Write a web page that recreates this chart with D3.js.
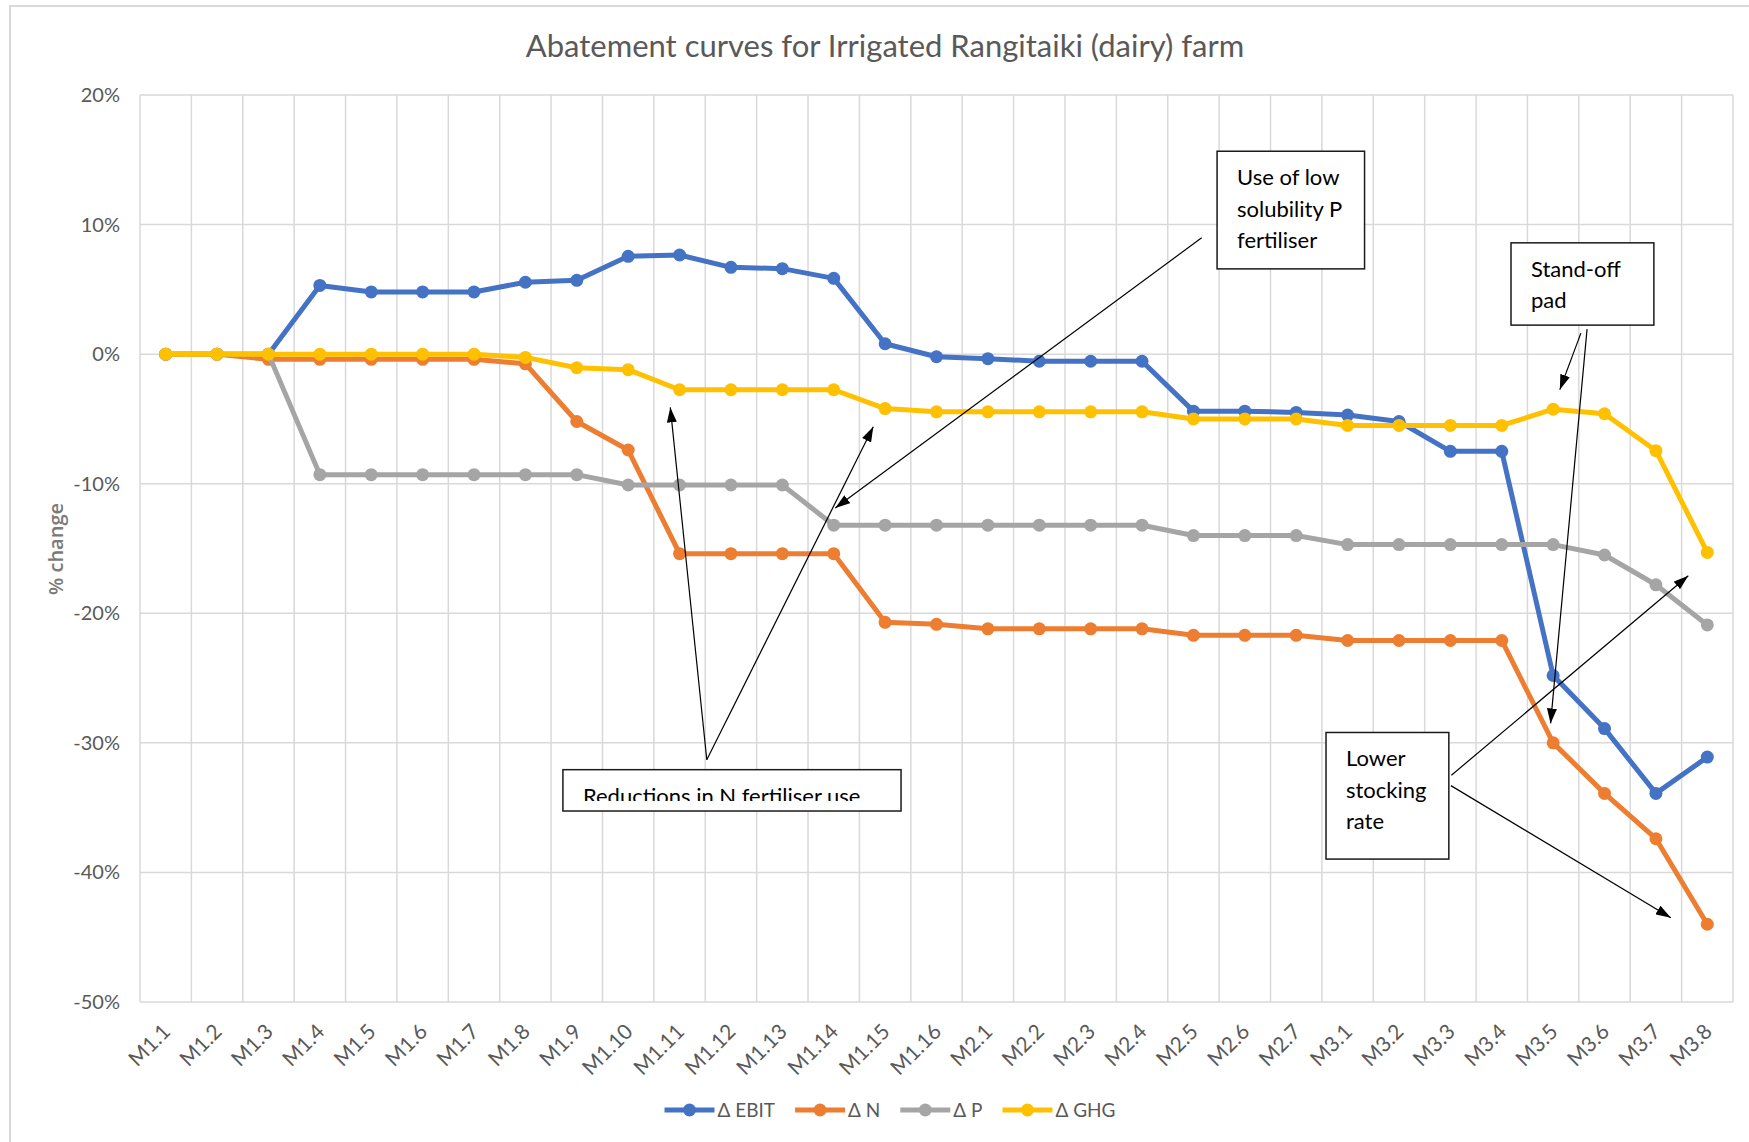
<!DOCTYPE html>
<html>
<head>
<meta charset="utf-8">
<script src="https://cdn.jsdelivr.net/npm/d3@7"></script>
<style>
  body { margin: 0; background: #fff; }
  svg { display: block; }
</style>
</head>
<body>
<script>
// categories and series (% change)
const categories = ['M1.1', 'M1.2', 'M1.3', 'M1.4', 'M1.5', 'M1.6', 'M1.7', 'M1.8', 'M1.9', 'M1.10',
  'M1.11', 'M1.12', 'M1.13', 'M1.14', 'M1.15', 'M1.16', 'M2.1', 'M2.2', 'M2.3', 'M2.4', 'M2.5',
  'M2.6', 'M2.7', 'M3.1', 'M3.2', 'M3.3', 'M3.4', 'M3.5', 'M3.6', 'M3.7', 'M3.8'];

const ebit = [0, 0, 0, 5.3, 4.8, 4.8, 4.8, 5.55, 5.7, 7.55, 7.65, 6.7, 6.6, 5.85, 0.8, -0.2,
  -0.35, -0.55, -0.55, -0.55, -4.4, -4.4, -4.5,
  -4.7, -5.2, -7.5, -7.5, -24.8, -28.9, -33.9, -31.1];
const nitrogen = [0, 0, -0.4, -0.4, -0.4, -0.4, -0.4, -0.75, -5.2, -7.4, -15.4, -15.4, -15.4, -15.4, -20.7, -20.85,
  -21.2, -21.2, -21.2, -21.2, -21.7, -21.7, -21.7,
  -22.1, -22.1, -22.1, -22.1, -30.0, -33.9, -37.4, -44.0];
const phosphorus = [0, 0, 0, -9.3, -9.3, -9.3, -9.3, -9.3, -9.3, -10.1, -10.1, -10.1, -10.1, -13.2, -13.2, -13.2,
  -13.2, -13.2, -13.2, -13.2, -14.0, -14.0, -14.0,
  -14.7, -14.7, -14.7, -14.7, -14.7, -15.5, -17.8, -20.9];
const ghg = [0, 0, 0, 0, 0, 0, 0, -0.25, -1.05, -1.2, -2.75, -2.75, -2.75, -2.75, -4.2, -4.45,
  -4.45, -4.45, -4.45, -4.45, -5.0, -5.0, -5.0,
  -5.5, -5.5, -5.5, -5.5, -4.25, -4.6, -7.45, -15.3];

const seriesNames = ['\u0394 EBIT', '\u0394 N', '\u0394 P', '\u0394 GHG'];
const seriesColors = ['#4472c4', '#ed7d31', '#a5a5a5', '#ffc000'];
const yTicks = [20, 10, 0, -10, -20, -30, -40, -50];

// callouts: box corners and arrows given as [band offset, % value]
const noteLines = [
  ['Use of low', 'solubility P', 'fertiliser'],
  ['Stand-off', 'pad'],
  ['Lower', 'stocking', 'rate'],
  ['Reductions in N fertiliser use']
];
const noteBoxes = [
  [20.96, 15.66, 23.83, 6.58],
  [26.68, 8.59, 29.46, 2.24],
  [23.08, -29.2, 25.47, -38.97],
  [8.23, -32.07, 14.81, -35.26]
];
const noteArrows = [
  [[20.66, 8.98, 13.53, -11.88]],
  [[28.04, 1.62, 27.63, -2.74], [28.16, 1.93, 27.45, -28.5]],
  [[25.52, -32.5, 30.13, -17.1], [25.51, -33.3, 29.79, -43.5]],
  [[11.03, -31.3, 10.32, -4.11], [11.03, -31.3, 14.27, -5.61]]
];

const width = 1749;
const height = 1142;
const plot = { left: 140, right: 1733, top: 95, bottom: 1002 };
const FONT = 'Lato, "Liberation Sans", sans-serif';
const TEXT_GRAY = '#595959';

const svg = d3.select('body')
  .append('svg')
  .attr('width', width)
  .attr('height', height)
  .style('font-family', FONT);

svg.append('rect')
  .attr('width', width)
  .attr('height', height)
  .attr('fill', '#fff');

// chart area frame (runs off the right and bottom edge)
svg.append('rect')
  .attr('x', 10)
  .attr('y', 6)
  .attr('width', 1770)
  .attr('height', 1170)
  .attr('fill', 'none')
  .attr('stroke', '#d9d9d9')
  .attr('stroke-width', 2);

const x = d3.scaleBand()
  .domain(categories)
  .range([plot.left, plot.right])
  .padding(0);

const y = d3.scaleLinear()
  .domain([-50, 20])
  .range([plot.bottom, plot.top]);

const cx = c => x(c) + x.bandwidth() / 2;
const fx = f => plot.left + f * x.step();

svg.append('text')
  .attr('x', 885)
  .attr('y', 57)
  .attr('text-anchor', 'middle')
  .attr('fill', TEXT_GRAY)
  .style('font-size', '31px')
  .text('Abatement curves for Irrigated Rangitaiki (dairy) farm');

// gridlines
const grid = svg.append('g')
  .attr('stroke', '#d9d9d9')
  .attr('stroke-width', 1.5);

grid.selectAll('.hgrid')
  .data(yTicks)
  .enter()
  .append('line')
  .attr('x1', plot.left)
  .attr('x2', plot.right)
  .attr('y1', d => y(d))
  .attr('y2', d => y(d));

grid.selectAll('.vgrid')
  .data(d3.range(categories.length + 1))
  .enter()
  .append('line')
  .attr('x1', d => fx(d))
  .attr('x2', d => fx(d))
  .attr('y1', plot.top)
  .attr('y2', plot.bottom);

// y axis labels
svg.append('g')
  .selectAll('text')
  .data(yTicks)
  .enter()
  .append('text')
  .attr('x', 120)
  .attr('y', d => y(d) + 7)
  .attr('text-anchor', 'end')
  .attr('fill', TEXT_GRAY)
  .style('font-size', '20px')
  .text(d => `${ d }%`);

svg.append('text')
  .attr('transform', 'translate(63,549) rotate(-90)')
  .attr('text-anchor', 'middle')
  .attr('fill', '#7a7a7a')
  .style('font-family', '"Open Sans", sans-serif')
  .style('font-weight', 600)
  .style('font-size', '20px')
  .text('% change');

// x axis labels
svg.append('g')
  .selectAll('text')
  .data(categories)
  .enter()
  .append('text')
  .attr('transform', d => `translate(${ cx(d) + 6 },${ plot.bottom + 31 }) rotate(-45)`)
  .attr('text-anchor', 'end')
  .attr('fill', TEXT_GRAY)
  .style('font-size', '21px')
  .text(d => d);

// series
const series = [ebit, nitrogen, phosphorus, ghg].map((values, i) => ({
  name: seriesNames[i],
  color: seriesColors[i],
  points: categories.map((c, j) => ({ cat: c, value: values[j] }))
}));

const line = d3.line()
  .x(d => cx(d.cat))
  .y(d => y(d.value));

const seriesGroups = svg.append('g')
  .selectAll('g')
  .data(series)
  .enter()
  .append('g');

seriesGroups.append('path')
  .attr('d', d => line(d.points))
  .attr('fill', 'none')
  .attr('stroke', d => d.color)
  .attr('stroke-width', 5)
  .attr('stroke-linejoin', 'round');

seriesGroups.selectAll('circle')
  .data(d => d.points.map(p => ({ ...p, color: d.color })))
  .enter()
  .append('circle')
  .attr('cx', d => cx(d.cat))
  .attr('cy', d => y(d.value))
  .attr('r', 6.5)
  .attr('fill', d => d.color);

// callouts
const defs = svg.append('defs');

defs.append('marker')
  .attr('id', 'arrow')
  .attr('viewBox', '0 0 10 10')
  .attr('refX', 10)
  .attr('refY', 5)
  .attr('markerUnits', 'userSpaceOnUse')
  .attr('markerWidth', 15)
  .attr('markerHeight', 10)
  .attr('preserveAspectRatio', 'none')
  .attr('orient', 'auto')
  .append('path')
  .attr('d', 'M0,0L10,5L0,10Z')
  .attr('fill', '#000');

noteBoxes.forEach((b, i) => {
  const x0 = fx(b[0]);
  const y0 = y(b[1]);
  const w = fx(b[2]) - x0;
  const h = y(b[3]) - y0;

  const g = svg.append('g');

  g.append('rect')
    .attr('x', x0)
    .attr('y', y0)
    .attr('width', w)
    .attr('height', h)
    .attr('fill', '#fff')
    .attr('stroke', '#1a1a1a')
    .attr('stroke-width', 1.5);

  // text that runs past the inner margin is cut off, as in the source
  defs.append('clipPath')
    .attr('id', `note-clip-${ i }`)
    .append('rect')
    .attr('x', x0)
    .attr('y', y0)
    .attr('width', w)
    .attr('height', h - 10);

  g.append('text')
    .attr('clip-path', `url(#note-clip-${ i })`)
    .attr('fill', '#000')
    .style('font-size', '22px')
    .selectAll('tspan')
    .data(noteLines[i])
    .enter()
    .append('tspan')
    .attr('x', x0 + 20)
    .attr('y', (d, k) => y0 + 34 + k * 31.5)
    .text(d => d);

  svg.append('g')
    .selectAll('line')
    .data(noteArrows[i])
    .enter()
    .append('line')
    .attr('x1', d => fx(d[0]))
    .attr('y1', d => y(d[1]))
    .attr('x2', d => fx(d[2]))
    .attr('y2', d => y(d[3]))
    .attr('stroke', '#000')
    .attr('stroke-width', 1.2)
    .attr('marker-end', 'url(#arrow)');
});

// legend
const legend = svg.append('g')
  .attr('transform', 'translate(0,1110)');

const items = legend.selectAll('g')
  .data(series)
  .enter()
  .append('g');

items.append('line')
  .attr('x1', 0)
  .attr('x2', 50)
  .attr('stroke', d => d.color)
  .attr('stroke-width', 5);

items.append('circle')
  .attr('cx', 25)
  .attr('r', 6.5)
  .attr('fill', d => d.color);

items.append('text')
  .attr('x', 53)
  .attr('y', 7)
  .attr('fill', TEXT_GRAY)
  .style('font-size', '19px')
  .text(d => d.name);

let offset = 0;
const widths = [];
items.each(function() {
  widths.push(this.getBBox().width);
});
const total = d3.sum(widths) + 20 * (widths.length - 1);
items.attr('transform', (d, i) => {
  const pos = 890 - total / 2 + offset;
  offset += widths[i] + 20;
  return `translate(${ pos },0)`;
});
</script>
</body>
</html>
